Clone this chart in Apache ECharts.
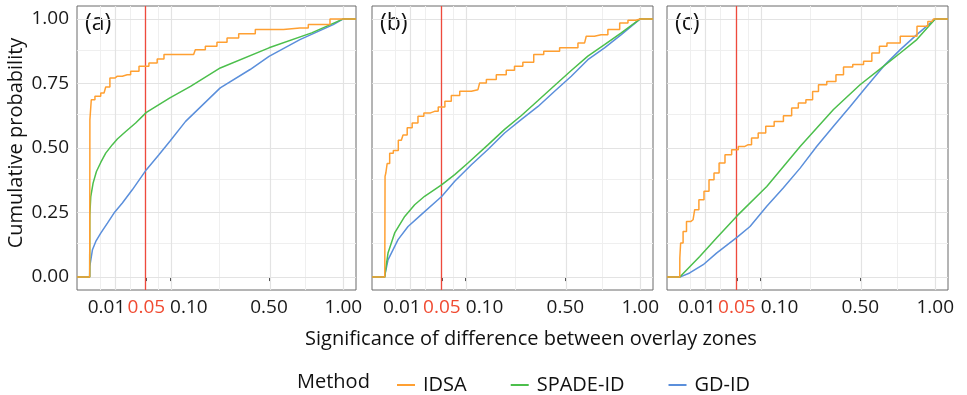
<!DOCTYPE html>
<html>
<head>
<meta charset="utf-8">
<script src="https://cdn.jsdelivr.net/npm/echarts@6/dist/echarts.min.js"></script>
<style>
  html, body { margin: 0; padding: 0; background: #fff; }
  #chart { width: 967px; height: 395px; }
</style>
</head>
<body>
<div id="chart"></div>
<script>
// x values are p-values, drawn on a square-root scale
const tickValues = [0.01, 0.05, 0.1, 0.5, 1]
const tickLabels = ['0.01', '0.05', '0.10', '0.50', '1.00']
const yTicks = [0, 0.25, 0.5, 0.75, 1]
const yTickLabels = ['0.00', '0.25', '0.50', '0.75', '1.00']
const panelTags = ['(a)', '(b)', '(c)']
const methods = ['IDSA', 'SPADE-ID', 'GD-ID']

// panel (a)
const aIdsaP = [0, 0.000003, 0.00012, 0.00093, 0.0032, 0.0049, 0.008, 0.0119, 0.0219, 0.0306, 0.0458, 0.064, 0.078, 0.094, 0.168, 0.179, 0.239, 0.265, 0.323, 0.368, 0.489, 0.687, 0.801, 1]
const aIdsaY = [0, 0.61, 0.687, 0.70, 0.713, 0.736, 0.771, 0.778, 0.784, 0.797, 0.817, 0.829, 0.845, 0.862, 0.862, 0.881, 0.894, 0.91, 0.926, 0.943, 0.959, 0.965, 0.978, 1]
const aSpadeP = [0, 0.0000002, 0.0000185, 0.00018, 0.00071, 0.0019, 0.004, 0.008, 0.0119, 0.0202, 0.0328, 0.05, 0.1, 0.158, 0.265, 0.5, 0.766, 1]
const aSpadeY = [0, 0.24, 0.312, 0.364, 0.409, 0.444, 0.48, 0.513, 0.535, 0.564, 0.597, 0.638, 0.694, 0.739, 0.81, 0.888, 0.946, 1]
const aGdP = [0, 0.0000002, 0.00012, 0.00058, 0.0019, 0.0049, 0.0092, 0.0166, 0.0282, 0.05, 0.0745, 0.1, 0.143, 0.265, 0.4, 0.5, 0.687, 0.922, 1]
const aGdY = [0, 0.041, 0.106, 0.138, 0.17, 0.209, 0.248, 0.287, 0.338, 0.416, 0.474, 0.526, 0.603, 0.733, 0.804, 0.855, 0.92, 0.978, 1]

// panel (b)
const bIdsaP = [0, 0.0000048, 0.000037, 0.00016, 0.00066, 0.0017, 0.0042, 0.0061, 0.0095, 0.0137, 0.0204, 0.0266, 0.038, 0.05, 0.061, 0.075, 0.098, 0.133, 0.143, 0.174, 0.208, 0.245, 0.271, 0.314, 0.367, 0.408, 0.533, 0.612, 0.632, 0.717, 0.81, 0.882, 0.931, 1]
const bIdsaY = [0, 0.39, 0.403, 0.44, 0.48, 0.49, 0.53, 0.55, 0.578, 0.597, 0.623, 0.636, 0.642, 0.659, 0.681, 0.703, 0.72, 0.726, 0.752, 0.765, 0.784, 0.801, 0.817, 0.832, 0.862, 0.875, 0.888, 0.907, 0.933, 0.939, 0.959, 0.984, 0.995, 1]
const bSpadeP = [0, 0.0000048, 0.00016, 0.0015, 0.0061, 0.0137, 0.0243, 0.05, 0.075, 0.106, 0.163, 0.22, 0.285, 0.36, 0.442, 0.533, 0.632, 0.74, 0.857, 1]
const bSpadeY = [0, 0.02, 0.093, 0.171, 0.235, 0.28, 0.313, 0.358, 0.397, 0.442, 0.512, 0.572, 0.625, 0.684, 0.742, 0.8, 0.856, 0.9, 0.946, 1]
const bGdP = [0, 0.0000048, 0.00016, 0.0027, 0.0083, 0.0204, 0.05, 0.075, 0.115, 0.163, 0.22, 0.285, 0.36, 0.442, 0.533, 0.632, 0.74, 0.857, 1]
const bGdY = [0, 0.016, 0.067, 0.145, 0.196, 0.242, 0.313, 0.371, 0.435, 0.494, 0.558, 0.61, 0.661, 0.72, 0.778, 0.842, 0.888, 0.939, 1]

// panel (c)
const cIdsaP = [0, 0.0000001, 0.000042, 0.00038, 0.0011, 0.0027, 0.0042, 0.0072, 0.011, 0.0154, 0.0207, 0.0269, 0.0361, 0.0467, 0.0586, 0.0718, 0.0864, 0.1024, 0.1246, 0.149, 0.181, 0.203, 0.228, 0.26, 0.281, 0.309, 0.354, 0.394, 0.428, 0.49, 0.546, 0.585, 0.637, 0.679, 0.814, 0.912, 0.974, 1]
const cIdsaY = [0, 0.074, 0.132, 0.177, 0.215, 0.222, 0.261, 0.30, 0.332, 0.377, 0.403, 0.442, 0.474, 0.493, 0.506, 0.513, 0.539, 0.558, 0.584, 0.603, 0.625, 0.655, 0.674, 0.687, 0.719, 0.745, 0.758, 0.784, 0.814, 0.823, 0.836, 0.868, 0.894, 0.907, 0.933, 0.972, 0.99, 1]
const cSpadeP = [0, 0.0061, 0.0207, 0.0506, 0.116, 0.222, 0.362, 0.498, 0.637, 0.745, 0.861, 1]
const cSpadeY = [0, 0.08, 0.151, 0.238, 0.351, 0.506, 0.649, 0.745, 0.817, 0.868, 0.92, 1]
const cGdP = [0, 0.0015, 0.0084, 0.0207, 0.0506, 0.0756, 0.116, 0.164, 0.222, 0.287, 0.362, 0.445, 0.536, 0.637, 0.745, 0.861, 1]
const cGdY = [0, 0.016, 0.048, 0.093, 0.155, 0.196, 0.274, 0.345, 0.422, 0.506, 0.584, 0.661, 0.739, 0.817, 0.881, 0.939, 1]

const panels = [
    [[aIdsaP, aIdsaY], [aSpadeP, aSpadeY], [aGdP, aGdY]],
    [[bIdsaP, bIdsaY], [bSpadeP, bSpadeY], [bGdP, bGdY]],
    [[cIdsaP, cIdsaY], [cSpadeP, cSpadeY], [cGdP, cGdY]]
]

const colors = ['#FFA032', '#4CBF4C', '#5B8FDB']
const FONT = 'Open Sans'
const xMin = -0.05
const xMax = 1.05
const gridLefts = [77, 372, 667]
const gridWidths = [279, 281, 281]

const sq = v => Math.sqrt(v)
const sTicks = tickValues.map(sq)
// minor breaks halfway between majors (in transformed space)
let sMinor = [sTicks[0] - (sTicks[1] - sTicks[0]) / 2]
for (let i = 0; i < sTicks.length - 1; i++) {
    sMinor.push((sTicks[i] + sTicks[i + 1]) / 2)
}
const yMinor = [0.125, 0.375, 0.625, 0.875]
// label nudges: 0.01 sits a little left, 0.10 starts at its tick, 0.05 is red
const labelStyle = ['l', 'r', 'g', '', '']

const nearest = (arr, v) => {
    let idx = 0
    arr.forEach((t, i) => {
        if (Math.abs(t - v) < Math.abs(arr[idx] - v)) idx = i
    })
    return idx
}
const labelFor = v => {
    let idx = nearest(sTicks, v)
    return labelStyle[idx] ? '{' + labelStyle[idx] + '|' + tickLabels[idx] + '}' : tickLabels[idx]
}
const yLabelFor = v => yTickLabels[nearest(yTicks, v)]

let grid = []
let xAxis = []
let yAxis = []
let series = []
let graphic = []

panels.forEach((panel, i) => {
    grid.push({
        left: gridLefts[i],
        top: 6,
        width: gridWidths[i],
        height: 284,
        show: true,
        borderColor: '#6b6b6b',
        borderWidth: 1,
        backgroundColor: '#fff'
    })
    xAxis.push({
        type: 'value',
        gridIndex: i,
        min: xMin,
        max: xMax,
        axisLine: { show: false },
        splitLine: { show: false },
        axisTick: {
            show: true,
            length: 4,
            customValues: sTicks,
            lineStyle: { color: '#444', width: 1 }
        },
        axisLabel: {
            show: true,
            customValues: sTicks,
            hideOverlap: false,
            margin: 8,
            fontSize: 19,
            fontFamily: FONT,
            color: '#1a1a1a',
            formatter: labelFor,
            rich: {
                l: { fontSize: 19, fontFamily: FONT, color: '#1a1a1a', padding: [0, 17, 0, 0] },
                r: { fontSize: 19, fontFamily: FONT, color: '#F04B32' },
                g: { fontSize: 19, fontFamily: FONT, color: '#1a1a1a', padding: [0, 0, 0, 38] }
            }
        }
    })
    yAxis.push({
        type: 'value',
        gridIndex: i,
        min: -0.05,
        max: 1.05,
        axisLine: { show: false },
        splitLine: { show: false },
        axisTick: {
            show: true,
            length: 5,
            customValues: yTicks,
            lineStyle: { color: '#444', width: 1 }
        },
        axisLabel: {
            show: i === 0,
            customValues: yTicks,
            margin: 8,
            fontSize: 19,
            fontFamily: FONT,
            color: '#1a1a1a',
            formatter: yLabelFor
        }
    })
    // background grid lines
    let lines = []
    sMinor.forEach(v => lines.push({ xAxis: v, lineStyle: { color: '#efefef', width: 1, type: 'solid' } }))
    yMinor.forEach(v => lines.push({ yAxis: v, lineStyle: { color: '#efefef', width: 1, type: 'solid' } }))
    sTicks.forEach(v => lines.push({ xAxis: v, lineStyle: { color: '#e3e3e3', width: 1.2, type: 'solid' } }))
    yTicks.forEach(v => lines.push({ yAxis: v, lineStyle: { color: '#e3e3e3', width: 1.2, type: 'solid' } }))
    series.push({
        type: 'line',
        xAxisIndex: i,
        yAxisIndex: i,
        data: [],
        silent: true,
        z: 0,
        markLine: {
            silent: true,
            symbol: ['none', 'none'],
            label: { show: false },
            animation: false,
            lineStyle: { type: 'solid' },
            data: lines
        }
    })
    // 0.05 reference line
    series.push({
        type: 'line',
        xAxisIndex: i,
        yAxisIndex: i,
        data: [],
        silent: true,
        z: 1,
        markLine: {
            silent: true,
            symbol: ['none', 'none'],
            label: { show: false },
            animation: false,
            lineStyle: { color: '#EF4A3C', width: 1.3, type: 'solid' },
            data: [{ xAxis: sq(0.05) }]
        }
    })
    panel.forEach((pair, m) => {
        let pts = [[xMin, 0]]
        pair[0].forEach((p, k) => pts.push([sq(p), pair[1][k]]))
        pts.push([xMax, 1])
        series.push({
            name: methods[m],
            type: 'line',
            xAxisIndex: i,
            yAxisIndex: i,
            data: pts,
            step: m === 0 ? 'middle' : false,
            showSymbol: false,
            symbol: 'none',
            color: colors[m],
            lineStyle: { color: colors[m], width: 1.5 },
            z: 10 + (2 - m),
            animation: false
        })
    })
    graphic.push({
        type: 'text',
        left: gridLefts[i] + 8,
        top: 12,
        style: {
            text: panelTags[i],
            fontSize: 23,
            fontFamily: FONT,
            fill: '#111'
        }
    })
})

graphic.push({
    type: 'text',
    x: 16,
    y: 143,
    rotation: Math.PI / 2,
    style: {
        text: 'Cumulative probability',
        fontSize: 20,
        fontFamily: FONT,
        fill: '#111',
        align: 'center',
        verticalAlign: 'middle'
    }
})
graphic.push({
    type: 'text',
    x: 531,
    y: 339,
    style: {
        text: 'Significance of difference between overlay zones',
        fontSize: 20,
        fontFamily: FONT,
        fill: '#111',
        align: 'center',
        verticalAlign: 'middle'
    }
})
graphic.push({
    type: 'text',
    x: 297,
    y: 382,
    style: {
        text: 'Method',
        fontSize: 20,
        fontFamily: FONT,
        fill: '#111',
        align: 'left',
        verticalAlign: 'middle'
    }
})

let option = {
    animation: false,
    textStyle: { fontFamily: FONT },
    grid: grid,
    xAxis: xAxis,
    yAxis: yAxis,
    legend: {
        data: methods,
        left: 392,
        top: 370,
        icon: 'rect',
        itemWidth: 18,
        itemHeight: 2,
        itemGap: 44,
        selectedMode: false,
        textStyle: { fontSize: 20, fontFamily: FONT, color: '#111', padding: [0, 0, 0, 3] }
    },
    graphic: graphic,
    series: series
}

const EC = echarts.init(document.getElementById('chart'))
EC.setOption(option)
</script>
</body>
</html>
